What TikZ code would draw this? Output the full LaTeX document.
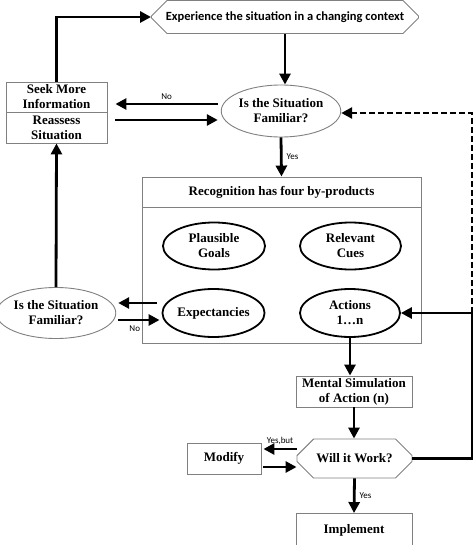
\documentclass[tikz,border=0pt]{standalone}
\usepackage{fontspec}
\setmainfont{Liberation Serif}
\newfontfamily\carl{Carlito}
\usetikzlibrary{arrows.meta,shapes.geometric,shapes.misc,calc}
\definecolor{edgegrey}{RGB}{128,128,128}
\begin{document}
\begin{tikzpicture}[x=1pt,y=-1pt,
  box/.style={draw=edgegrey,line width=0.9pt,rectangle,inner sep=0pt,align=center,font=\fontsize{13}{15}\selectfont\bfseries},
  oct/.style={draw=edgegrey,line width=0.9pt,chamfered rectangle,chamfered rectangle xsep=12pt,chamfered rectangle ysep=10pt,inner sep=0pt,align=center},
  greyell/.style={draw=edgegrey,line width=0.9pt,ellipse,inner sep=0pt,align=center,font=\fontsize{13}{15}\selectfont\bfseries},
  blackell/.style={draw=black,line width=1.8pt,ellipse,inner sep=0pt,align=center,font=\fontsize{13}{15}\selectfont\bfseries},
  arr/.style={line width=2.8pt,-{Triangle[length=11pt,width=11pt]}},
  lbl/.style={font=\carl\fontsize{9}{10}\selectfont,inner sep=1pt},
  dashline/.style={line width=2.8pt,dash pattern=on 6pt off 3pt}
]
\useasboundingbox (0,0) rectangle (474,545);
\clip (0,0) rectangle (474,545);

% nodes
\node[oct,minimum width=267pt,minimum height=33pt,font=\carl\fontsize{12.5}{14}\selectfont\bfseries] (exp) at (285,17) {Experience the situation in a changing context};
\node[greyell,minimum width=112pt,minimum height=52pt] (fam1) at (281,111) {Is the Situation\\Familiar?};
\node[box,minimum width=101pt,minimum height=30pt] (seek) at (56.5,97) {Seek More\\Information};
\node[box,minimum width=101pt,minimum height=31pt] (reassess) at (56.5,127.5) {Reassess\\Situation};
\node[box,minimum width=279pt,minimum height=30pt] (rectitle) at (281.5,192) {Recognition has four by-products};
\node[box,minimum width=279pt,minimum height=136pt] (recbody) at (281.5,275) {};
\node[blackell,minimum width=102pt,minimum height=47pt] (goals) at (214,246) {Plausible\\Goals};
\node[blackell,minimum width=101pt,minimum height=47pt] (cues) at (350.5,246) {Relevant\\Cues};
\node[blackell,minimum width=101pt,minimum height=48pt] (expect) at (213.5,313) {Expectancies};
\node[blackell,minimum width=100pt,minimum height=48pt] (actions) at (350,313) {Actions\\1\ldots n};
\node[greyell,minimum width=111pt,minimum height=51pt] (fam2) at (56,313) {Is the Situation\\Familiar?};
\node[box,minimum width=116pt,minimum height=31pt] (ms) at (354,391.5) {Mental Simulation\\of Action (n)};
\node[oct,minimum width=115pt,minimum height=39pt,chamfered rectangle ysep=12pt,font=\fontsize{13}{15}\selectfont\bfseries] (will) at (354.5,458.5) {Will it Work?};
\node[box,minimum width=74pt,minimum height=31pt] (modify) at (224,458.5) {Modify};
\node[box,minimum width=116pt,minimum height=34pt] (impl) at (354,530.5) {Implement};
\coordinate (corner) at (472,313);

% connectors
\draw[arr] (seek.north) |- (exp.west);
\draw[arr] (exp.south) -- (exp.south |- fam1.north);
\draw[arr] ([xshift=-3pt,yshift=7pt]fam1.west) -- node[lbl,above=2pt] {No} ([xshift=8pt,yshift=-7pt]seek.east);
\draw[arr] ([xshift=8pt,yshift=7.5pt]reassess.east) -- ([xshift=-3pt,yshift=-9pt]fam1.west);
\draw[arr] (fam1.south) -- node[lbl,right=3pt] {Yes} (rectitle.north);
\draw[arr,dashline] (corner) |- ([yshift=-2pt]fam1.east);
\draw[arr] (will.east) -| (corner) -- (actions.east);
\draw[arr] ([xshift=-5pt,yshift=10pt]expect.west) -- ([xshift=2pt,yshift=10pt]fam2.east);
\draw[arr] ([xshift=2pt,yshift=-7pt]fam2.east) -- node[lbl,below=3pt,pos=0.4] {No} ([xshift=-2pt,yshift=-7pt]expect.west);
\draw[arr] (fam2.north) -- (reassess.south);
\draw[arr] (actions.south) -- (actions.south |- ms.north);
\draw[arr] (ms.south) -- (ms.south |- will.north);
\draw[arr] ([yshift=9.5pt]will.west) -- node[lbl,above=2pt] {Yes,but} ([xshift=2pt,yshift=9.5pt]modify.east);
\draw[arr] ([xshift=2pt,yshift=-8.5pt]modify.east) -- ([yshift=-8.5pt]will.west);
\draw[arr] (will.south) -- node[lbl,right=3pt] {Yes} (impl.north);
\end{tikzpicture}
\end{document}
